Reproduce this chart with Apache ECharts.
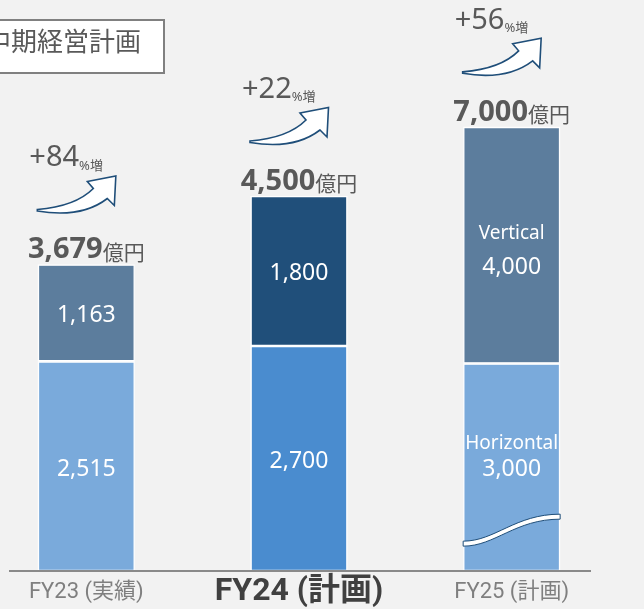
<!DOCTYPE html>
<html><head><meta charset="utf-8">
<script src="https://cdn.jsdelivr.net/npm/echarts@6/dist/echarts.min.js"></script>
<style>html,body{margin:0;padding:0;background:#f2f2f2}#c{width:644px;height:609px}</style>
</head><body><div id="c"></div>
<script>
// ---- data ----
const categories = ['FY23 (実績)', 'FY24 (計画)', 'FY25 (計画)'];
const horizontalValues = [2515, 2700, 3000];   // values printed in the bars
const verticalValues = [1163, 1800, 4000];
// bar heights as drawn (FY25 is drawn on a broken / compressed scale in the picture)
const horizontalDrawn = [2515, 2700, 2490];
const verticalDrawn = [1163, 1800, 2840];
const horizontalNames = ['', '', 'Horizontal'];
const verticalNames = ['', '', 'Vertical'];
const totalLabels = [3679, 4500, 7000];
const growthPct = [84, 22, 56];
const breakCategory = 2;
const breakAt = 490;

// ---- styles ----
const FONT = "'Noto Sans', 'Noto Sans CJK JP', sans-serif";
const AXFONT = "Roboto, 'Noto Sans CJK JP', sans-serif";
const horizontalColors = ['#7aaadb', '#4a8ccf', '#7aaadb'];
const verticalColors = ['#5c7d9d', '#204f7a', '#5c7d9d'];
const TXT = '#595959';
const fmt = n => n.toLocaleString('en-US');

const ARROW = 'M0,0 Q38,-3 56,-21 L50,-28 L78.5,-33.5 L77,-4 L70,-11 Q44,9 0,1.5 Z';
const WAVE = 'M0,27 C32,27 52,0 97,0 L97,5 C52,5 32,32 0,32 Z';

function barData(drawn, shown, names, colors, kind) {
  return drawn.map((v, i) => {
    const item = { value: v, itemStyle: { color: colors[i] } };
    if (names[i]) {
      item.label = {
        formatter: kind === 'h' ? `{th|${names[i]}}\n{nh|${fmt(shown[i])}}` : `{tv|${names[i]}}\n{nv|${fmt(shown[i])}}`,
        offset: [0, kind === 'h' ? -10 : 6]
      };
    } else {
      item.label = { formatter: fmt(shown[i]), offset: [0, kind === 'h' ? 3 : 2] };
    }
    return item;
  });
}

const rich = {
  th: { fontSize: 19, lineHeight: 24, color: '#fff', fontFamily: FONT },
  nh: { fontSize: 23, lineHeight: 28, color: '#fff', fontFamily: FONT },
  tv: { fontSize: 19, lineHeight: 32, color: '#fff', fontFamily: FONT },
  nv: { fontSize: 23, lineHeight: 36, color: '#fff', fontFamily: FONT }
};

const chart = echarts.init(document.getElementById('c'), null, { renderer: 'canvas' });
chart.setOption({
  backgroundColor: '#f2f2f2',
  animation: false,
  grid: { left: -20, right: 26, top: 71, bottom: 38, containLabel: false, outerBoundsMode: 'none' },
  xAxis: {
    type: 'category', data: categories,
    axisLine: { show: false }, axisTick: { show: false }, splitLine: { show: false },
    axisLabel: {
      interval: 0, margin: 3,
      formatter: (v, i) => i === 1 ? `{b|${v}}` : `{a|${v}}`,
      rich: {
        a: { fontSize: 22, lineHeight: 36, color: '#7f7f7f', fontFamily: AXFONT },
        b: { fontSize: 32, lineHeight: 36, color: '#404040', fontWeight: 'bold', fontFamily: AXFONT }
      }
    }
  },
  yAxis: { type: 'value', min: 0, max: 6000, show: false },
  series: [
    {
      name: 'Horizontal', type: 'bar', stack: 'total', barWidth: 97,
      itemStyle: { borderColor: '#ffffff', borderWidth: 1.3 },
      label: { show: true, position: 'inside', color: '#fff', fontSize: 23, fontFamily: FONT, rich },
      data: barData(horizontalDrawn, horizontalValues, horizontalNames, horizontalColors, 'h')
    },
    {
      name: 'Vertical', type: 'bar', stack: 'total', barWidth: 97,
      itemStyle: { borderColor: '#ffffff', borderWidth: 1.3 },
      label: { show: true, position: 'inside', color: '#fff', fontSize: 23, fontFamily: FONT, rich },
      data: barData(verticalDrawn, verticalValues, verticalNames, verticalColors, 'v')
    },
    {
      type: 'custom', z: 5, silent: true,
      data: categories.map((c, i) => [i, horizontalDrawn[i] + verticalDrawn[i], totalLabels[i], growthPct[i]]),
      renderItem(params, api) {
        const p = api.coord([api.value(0), api.value(1)]);
        const cx = p[0], ty = p[1];
        return {
          type: 'group',
          children: [
            {
              type: 'text', x: cx, y: ty - 17,
              style: {
                text: `{n|${fmt(api.value(2))}}{u|億円}`, align: 'center', verticalAlign: 'middle',
                rich: {
                  n: { fontSize: 29, fontWeight: 'bold', fill: TXT, fontFamily: FONT, verticalAlign: 'bottom', lineHeight: 34 },
                  u: { fontSize: 21, fill: TXT, fontFamily: FONT, verticalAlign: 'bottom', lineHeight: 30 }
                }
              }
            },
            {
              type: 'text', x: cx - 57, y: ty - 109,
              style: {
                text: `{a|+${api.value(3)}}{b|%増}`, align: 'left', verticalAlign: 'middle',
                rich: {
                  a: { fontSize: 29, fill: TXT, fontFamily: FONT, verticalAlign: 'bottom', lineHeight: 34 },
                  b: { fontSize: 13, fill: TXT, fontFamily: FONT, verticalAlign: 'bottom', lineHeight: 24 }
                }
              }
            },
            {
              type: 'path', x: cx - 49, y: ty - 55,
              shape: { pathData: ARROW },
              style: { fill: '#ffffff', stroke: '#1f4e79', lineWidth: 1.6 }
            }
          ]
        };
      }
    },
    {
      type: 'custom', z: 6, silent: true,
      data: [[breakCategory, breakAt]],
      renderItem(params, api) {
        const p = api.coord([api.value(0), api.value(1)]);
        return {
          type: 'path', x: p[0] - 48.5, y: p[1] - 16,
          shape: { pathData: WAVE },
          style: { fill: '#ffffff', stroke: '#1f4e79', lineWidth: 1 }
        };
      }
    }
  ],
  graphic: [
    { type: 'rect', left: -30, top: 19, shape: { width: 193, height: 53 }, style: { fill: '#ffffff', stroke: '#808080', lineWidth: 2 }, z: 10 },
    { type: 'text', x: 141, y: 44, style: { text: '中期経営計画', fontSize: 26, fill: TXT, fontFamily: FONT, align: 'right', verticalAlign: 'middle' }, z: 11 },
    { type: 'line', shape: { x1: 9, y1: 571, x2: 591, y2: 571 }, style: { stroke: '#8a8a8a', lineWidth: 2 }, z: 10 }
  ]
});
</script></body></html>
